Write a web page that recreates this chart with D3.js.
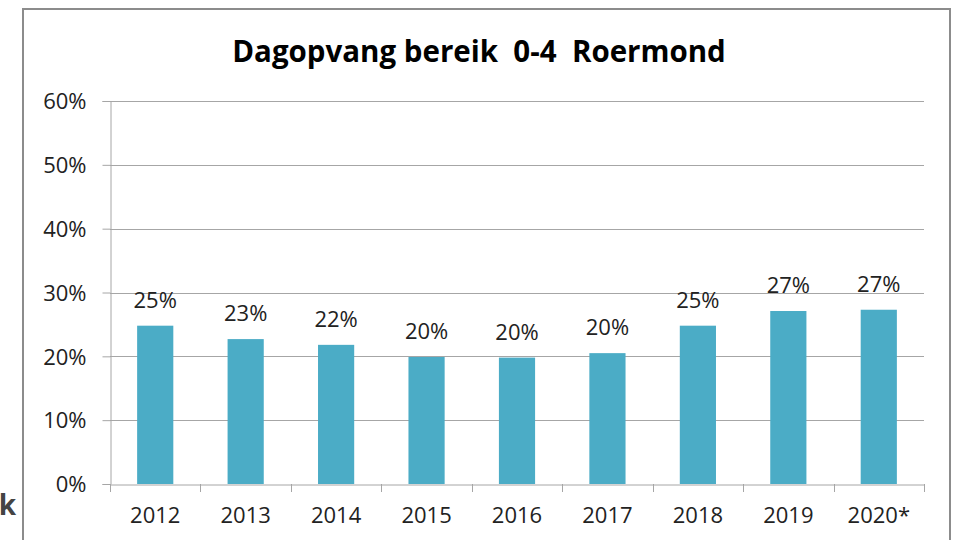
<!DOCTYPE html>
<html><head><meta charset="utf-8">
<script src="https://cdn.jsdelivr.net/npm/d3@7"></script>
<style>body{margin:0;background:#fff;overflow:hidden}svg{display:block}text{font-family:"Open Sans",sans-serif}</style>
</head><body>
<svg id="c" width="953" height="540"></svg>
<script>
const categories = ["2012","2013","2014","2015","2016","2017","2018","2019","2020*"];
const values = [0.248, 0.227, 0.218, 0.199, 0.198, 0.205, 0.248, 0.271, 0.273];
const valueLabels = ["25%","23%","22%","20%","20%","20%","25%","27%","27%"];
const yTicks = [0, 0.1, 0.2, 0.3, 0.4, 0.5, 0.6];
const title = "Dagopvang bereik  0-4  Roermond";

const svg = d3.select("#c");
const m = {left:110, right:924, top:101, bottom:484};
const x = d3.scaleBand().domain(categories).range([m.left, m.right]).paddingInner(0.6).paddingOuter(0.3);
const xb = d3.scaleBand().domain(categories).range([m.left, m.right]);
const y = d3.scaleLinear().domain([0, 0.6]).range([m.bottom, m.top]);
const FS = 22;

// outer frame
svg.append("rect").attr("x",23).attr("y",9).attr("width",927).attr("height",560)
  .attr("fill","#fff").attr("stroke","#8c8c8c").attr("stroke-width",2);

// cut-off letter at left
svg.append("text").attr("x",16).attr("y",515).attr("text-anchor","end")
  .attr("font-size",28).attr("font-weight","bold").attr("fill","#444").text("k");

// title
svg.append("text").attr("x",479).attr("y",62).attr("text-anchor","middle")
  .attr("font-size",29.5).attr("font-weight","bold").attr("fill","#000")
  .attr("xml:space","preserve").style("white-space","pre").text(title);

// gridlines
svg.append("g").selectAll("line").data(yTicks.slice(1)).join("line")
  .attr("x1",m.left).attr("x2",m.right).attr("y1",d=>Math.round(y(d))+0.5).attr("y2",d=>Math.round(y(d))+0.5)
  .attr("stroke","#a6a6a6").attr("stroke-width",1);

// y axis
const ya = svg.append("g").attr("transform",`translate(${m.left+0.5},0)`)
  .call(d3.axisLeft(y).tickValues(yTicks).tickFormat(d3.format(".0%")).tickSize(8).tickPadding(16));
ya.select(".domain").attr("stroke","#a6a6a6");
ya.selectAll(".tick line").attr("stroke","#a6a6a6");
ya.selectAll("text").attr("font-size",FS).attr("fill","#222").attr("font-family","Open Sans").attr("dy","0.35em");

// bars
svg.append("g").selectAll("rect").data(values).join("rect")
  .attr("x",(d,i)=>x(categories[i])).attr("width",x.bandwidth())
  .attr("y",d=>y(d)).attr("height",d=>m.bottom-y(d)).attr("fill","#4bacc6");

// value labels
svg.append("g").selectAll("text").data(values).join("text")
  .attr("x",(d,i)=>x(categories[i])+x.bandwidth()/2).attr("y",d=>y(d)-18)
  .attr("text-anchor","middle").attr("font-size",FS).attr("fill","#222")
  .text((d,i)=>valueLabels[i]);

// x axis
const xa = svg.append("g").attr("transform",`translate(0,${m.bottom+0.5})`)
  .call(d3.axisBottom(xb).tickSize(0).tickPadding(23));
xa.select(".domain").attr("stroke","#a6a6a6");
xa.selectAll("text").attr("font-size",FS).attr("fill","#222").attr("font-family","Open Sans");
svg.append("g").selectAll("line").data(d3.range(categories.length+1)).join("line")
  .attr("x1",i=>Math.round(m.left+i*xb.step())+0.5).attr("x2",i=>Math.round(m.left+i*xb.step())+0.5)
  .attr("y1",m.bottom).attr("y2",m.bottom+8).attr("stroke","#a6a6a6");
</script>
</body></html>
